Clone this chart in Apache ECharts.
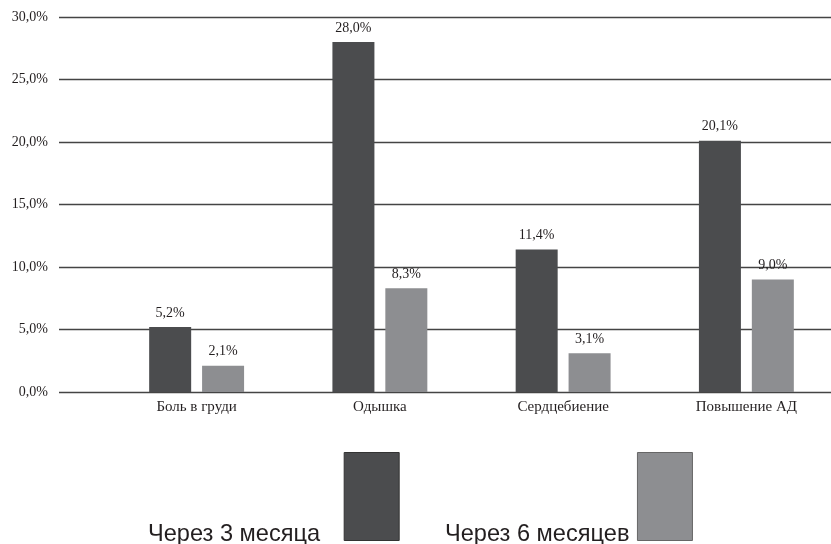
<!DOCTYPE html>
<html>
<head>
<meta charset="utf-8">
<script src="https://cdn.jsdelivr.net/npm/echarts@6/dist/echarts.min.js"></script>
<style>html,body{margin:0;padding:0;background:#fff;overflow:hidden}#c{width:838px;height:544px}</style>
</head>
<body>
<div id="c"></div>
<script>
const categories = ['Боль в груди', 'Одышка', 'Сердцебиение', 'Повышение АД'];
const seriesNames = ['Через 3 месяца', 'Через 6 месяцев'];
const after3 = [5.2, 28.0, 11.4, 20.1];
const after6 = [2.1, 8.3, 3.1, 9.0];
const yTickLabels = ['0,0%', '5,0%', '10,0%', '15,0%', '20,0%', '25,0%', '30,0%'];

const serif = '"Liberation Serif", "DejaVu Serif", serif';
const sans = '"Liberation Sans", Arial, sans-serif';
const txt = '#231f20';
const colors = ['#4b4c4e', '#8d8e91'];

const chart = echarts.init(document.getElementById('c'));
const fmt = v => v.toFixed(1).replace('.', ',') + '%';

function legendCfg(name, left, padRight, border) {
  return {
    left: left, top: 452, padding: 0, data: [name], itemWidth: 55, itemHeight: 88,
    align: 'right', icon: 'rect', selectedMode: false,
    itemStyle: {borderColor: border, borderWidth: 1},
    formatter: '{a|{name}}',
    textStyle: {rich: {a: {fontFamily: sans, fontSize: 23.6, color: txt, padding: [76, padRight, 0, 0]}}}
  };
}

chart.setOption({
  animation: false,
  backgroundColor: '#fff',
  grid: [
    {left: 59, right: 7, top: 17, bottom: 152},
    {left: 105, right: 0, top: 17, bottom: 152}
  ],
  xAxis: [
    {gridIndex: 0, type: 'category', data: categories, show: false},
    {gridIndex: 1, type: 'category', data: categories,
     axisLine: {show: false}, axisTick: {show: false},
     axisLabel: {color: txt, fontFamily: serif, fontSize: 15, margin: 8}}
  ],
  yAxis: [
    {gridIndex: 0, type: 'value', min: 0, max: 30, interval: 5,
     axisLine: {show: false}, axisTick: {show: false},
     axisLabel: {color: txt, fontFamily: serif, fontSize: 14, margin: 11,
       formatter: v => yTickLabels[Math.round(v / 5)]},
     splitLine: {lineStyle: {color: '#444', width: 1.3}}},
    {gridIndex: 1, type: 'value', min: 0, max: 30, interval: 5, show: false}
  ],
  legend: [
    legendCfg(seriesNames[0], 148, 19, '#333'),
    legendCfg(seriesNames[1], 445, 3, '#666')
  ],
  series: [
    {name: seriesNames[0], type: 'bar', xAxisIndex: 1, yAxisIndex: 1, data: after3,
     barWidth: 42, barGap: '26%', itemStyle: {color: colors[0]},
     label: {show: true, position: 'top', distance: 7, color: txt, fontFamily: serif, fontSize: 14, formatter: p => fmt(p.value)}},
    {name: seriesNames[1], type: 'bar', xAxisIndex: 1, yAxisIndex: 1, data: after6,
     barWidth: 42, barGap: '26%', itemStyle: {color: colors[1]},
     label: {show: true, position: 'top', distance: 7, color: txt, fontFamily: serif, fontSize: 14, formatter: p => fmt(p.value)}}
  ]
});
</script>
</body>
</html>
